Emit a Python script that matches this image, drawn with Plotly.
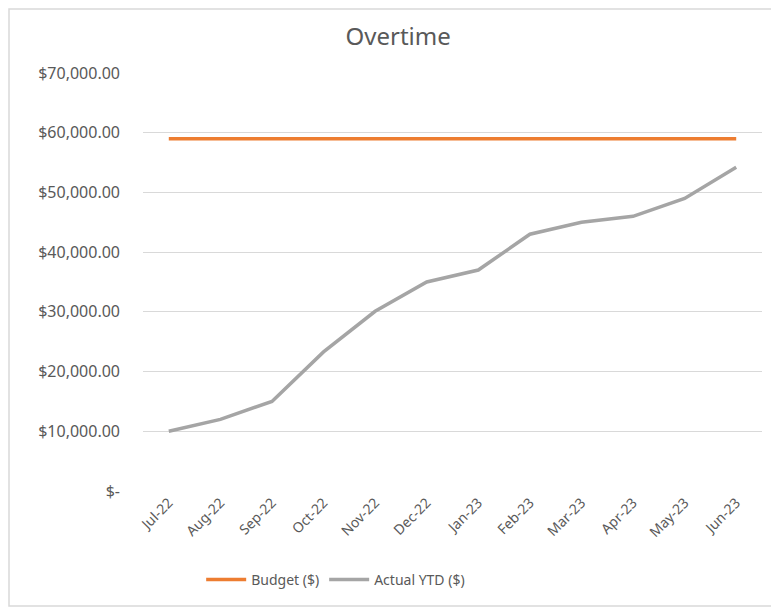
import plotly.graph_objects as go

months = ["Jul-22", "Aug-22", "Sep-22", "Oct-22", "Nov-22", "Dec-22",
          "Jan-23", "Feb-23", "Mar-23", "Apr-23", "May-23", "Jun-23"]
budget = [59000] * 12
actual_ytd = [10000, 12000, 15000, 23300, 30100, 35000,
              37000, 43000, 45000, 46000, 49000, 54200]
y_ticks = [0, 10000, 20000, 30000, 40000, 50000, 60000, 70000]
y_labels = ["$-", "$10,000.00", "$20,000.00", "$30,000.00", "$40,000.00",
            "$50,000.00", "$60,000.00", "$70,000.00"]

txt = "#595959"

# page body has an 8px margin, so the figure is drawn 8px smaller
W, H = 771, 600
L, R, T, B = 135, 17, 65, 117
pw, ph = W - L - R, H - T - B

fig = go.Figure()
fig.add_trace(go.Scatter(x=months, y=budget, name="Budget ($)", mode="lines",
                         line=dict(color="#ED7D31", width=3.5)))
fig.add_trace(go.Scatter(x=months, y=actual_ytd, name="Actual YTD ($)", mode="lines",
                         line=dict(color="#A5A5A5", width=3.5)))

fig.update_layout(
    width=W, height=H,
    margin=dict(l=L, r=R, t=T, b=B),
    paper_bgcolor="white", plot_bgcolor="white",
    font=dict(family="Noto Sans", color=txt, size=15),
    title=dict(text="Overtime", xref="container", x=0.506, xanchor="center",
               yref="container", y=0.953, yanchor="middle",
               font=dict(size=24, color=txt)),
    xaxis=dict(type="category", range=[-0.5, 11.5], tickangle=-45,
               showgrid=False, showline=False, ticks="", tickfont=dict(size=14)),
    yaxis=dict(range=[0, 70000], tickvals=y_ticks, ticktext=y_labels,
               showgrid=True, gridcolor="#D9D9D9", gridwidth=1,
               zeroline=False, showline=False, ticks="", ticklabelstandoff=22,
               tickfont=dict(size=16)),
    legend=dict(orientation="h", xref="container", x=0.425, xanchor="center",
                yref="container", y=0.047, yanchor="middle",
                font=dict(size=14), itemwidth=40),
    showlegend=True,
)

fig.add_shape(type="rect", xref="paper", yref="paper",
              x0=(1 - L) / pw, x1=(767 - L) / pw,
              y0=(H - B - 598) / ph, y1=(H - B - 1) / ph,
              line=dict(color="#D9D9D9", width=1.5), layer="below")

fig.write_html("out.html")
